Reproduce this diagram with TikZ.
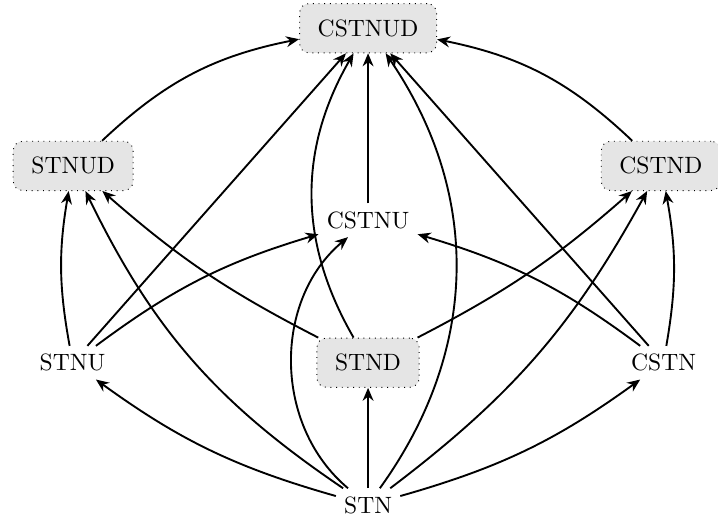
\documentclass[tikz,border=0pt]{standalone}
\usetikzlibrary{arrows.meta}
\tikzset{
  cls/.style={inner sep=3.3pt},
  % extended classes (dotted grey box)
  ext/.style={cls,draw,dotted,fill=gray!20,rounded corners=4pt,inner xsep=7.7pt,inner ysep=6.8pt},
  hasse/.style={thick,-{Stealth[length=5.5pt,width=4.6pt]}},
}
\begin{document}
\begin{tikzpicture}
\useasboundingbox (-5.48,-0.30) rectangle (5.21,7.52);

%% classes
\node[cls] (stn) at (0,0) {STN};
\node[cls] (stnu) at (-4.4,2.12) {STNU};
\node[ext] (stnd) at (0,2.12) {STND};
\node[cls] (cstn) at (4.4,2.12) {CSTN};
\node[cls] (cstnu) at (0,4.24) {CSTNU};
\node[ext] (stnud) at (-4.39,5.05) {STNUD};
\node[ext] (cstnd) at (4.36,5.05) {CSTND};
\node[ext] (cstnud) at (0,7.1) {CSTNUD};

%% straight edges
\foreach \a/\b in {stn/stnd, stnu/cstnud, cstn/cstnud, cstnu/cstnud}
  \draw[hasse] (\a) -- (\b);

%% bent edges
\foreach \a/\b/\ang in {stn/stnu/10, stn/stnud/15, stn/cstnu/50, stnu/stnud/10,
    stnu/cstnu/10, stnd/stnud/7, stnd/cstnud/30, stnud/cstnud/16}
  \draw[hasse] (\a) to[bend left=\ang] (\b);
\foreach \a/\b/\ang in {stn/cstn/10, stn/cstnd/12, stn/cstnud/35, cstn/cstnd/10,
    cstn/cstnu/10, stnd/cstnd/7, cstnd/cstnud/16}
  \draw[hasse] (\a) to[bend right=\ang] (\b);
\end{tikzpicture}
\end{document}
